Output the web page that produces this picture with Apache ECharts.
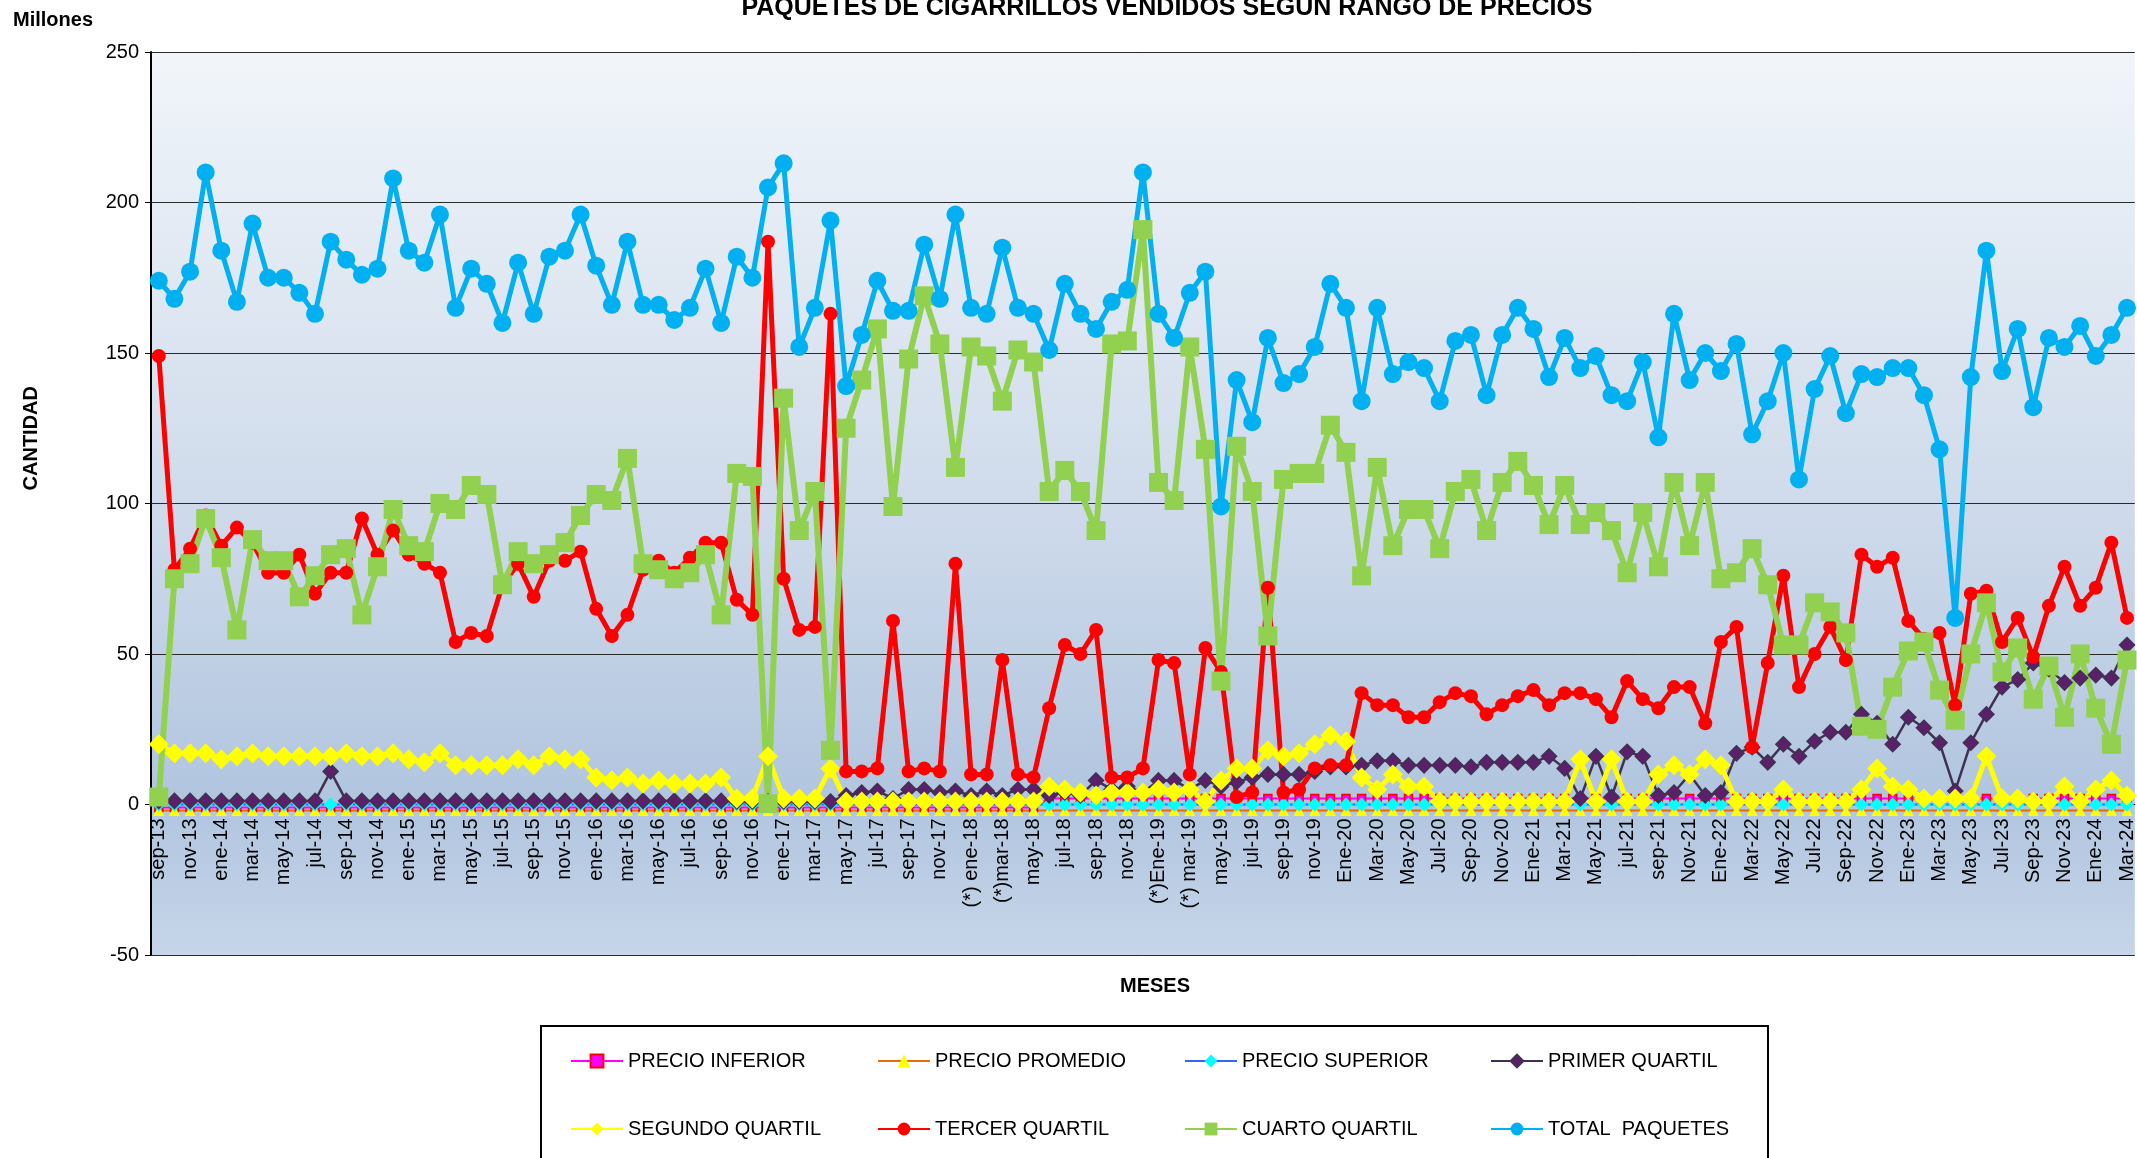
<!DOCTYPE html>
<html>
<head>
<meta charset="utf-8">
<title>Paquetes de cigarrillos vendidos</title>
<script src="https://cdn.jsdelivr.net/npm/echarts@6/dist/echarts.min.js"></script>
<style>
  html, body { margin: 0; padding: 0; background: #fff; }
  #chart { width: 2137px; height: 1158px; }
</style>
</head>
<body>
<div id="chart"></div>
<script>
// meses (cada categoria es un mes, se rotula uno de cada dos)
var meses = [
  'sep-13','oct-13','nov-13','dic-13',
  'ene-14','feb-14','mar-14','abr-14','may-14','jun-14','jul-14','ago-14','sep-14','oct-14','nov-14','dic-14',
  'ene-15','feb-15','mar-15','abr-15','may-15','jun-15','jul-15','ago-15','sep-15','oct-15','nov-15','dic-15',
  'ene-16','feb-16','mar-16','abr-16','may-16','jun-16','jul-16','ago-16','sep-16','oct-16','nov-16','dic-16',
  'ene-17','feb-17','mar-17','abr-17','may-17','jun-17','jul-17','ago-17','sep-17','oct-17','nov-17','dic-17',
  '(*) ene-18','feb-18','(*)mar-18','abr-18','may-18','jun-18','jul-18','ago-18','sep-18','oct-18','nov-18','dic-18',
  '(*)Ene-19','feb-19','(*) mar-19','abr-19','may-19','jun-19','jul-19','ago-19','sep-19','oct-19','nov-19','dic-19',
  'Ene-20','Feb-20','Mar-20','Abr-20','May-20','Jun-20','Jul-20','Ago-20','Sep-20','Oct-20','Nov-20','Dic-20',
  'Ene-21','Feb-21','Mar-21','Abr-21','May-21','Jun-21','jul-21','ago-21','sep-21','oct-21','Nov-21','Dic-21',
  'Ene-22','Feb-22','Mar-22','Abr-22','May-22','Jun-22','Jul-22','Ago-22','Sep-22','Oct-22','Nov-22','Dic-22',
  'Ene-23','Feb-23','Mar-23','Abr-23','May-23','Jun-23','Jul-23','Ago-23','Sep-23','Oct-23','Nov-23','Dic-23',
  'Ene-24','Feb-24','Mar-24'
];

var yTicks = [-50, 0, 50, 100, 150, 200, 250];

// millones de paquetes
var precioInferior = [
  -1,-1,-1,-1,-1,-1,-1,-1,-1,-1,-1,-1,-1,-1,-1,-1,-1,-1,-1,-1,-1,
  -1,-1,-1,-1,-1,-1,-1,-1,-1,-1,-1,-1,-1,-1,-1,-1,-1,-1,-1,-1,-1,
  -1,-1,-1,-1,-1,-1,-1,-1,-1,-1,-1,-1,-1,-1,-1,2,2,2,2,2,2,2,
  2,2,2,2,2,2,2,2,2,2,2,2,2,2,2,2,2,2,2,2,2,
  2,2,2,2,2,2,2,2,2,2,2,2,2,2,2,2,2,2,2,2,2,
  2,2,2,2,2,2,2,2,2,2,2,2,2,2,2,2,2,2,2,2,2
];
var precioPromedio = [
  -2,-2,-2,-2,-2,-2,-2,-2,-2,-2,-2,-2,-2,-2,-2,-2,-2,-2,-2,-2,-2,
  -2,-2,-2,-2,-2,-2,-2,-2,-2,-2,-2,-2,-2,-2,-2,-2,-2,-2,-2,-2,-2,
  -2,-2,-2,-2,-2,-2,-2,-2,-2,-2,-2,-2,-2,-2,-2,-2,-2,-2,-2,-2,-2,-2,
  -2,-2,-2,-2,-2,-2,-2,-2,-2,-2,-2,-2,-2,-2,-2,-2,-2,-2,-2,-2,-2,
  -2,-2,-2,-2,-2,-2,-2,-2,-2,-2,-2,-2,-2,-2,-2,-2,-2,-2,-2,-2,-2,
  -2,-2,-2,-2,-2,-2,-2,-2,-2,-2,-2,-2,-2,-2,-2,-2,-2,-2,-2,-2,-2
];
var precioSuperior = [
  0,0,0,0,0,0,0,0,0,0,0,0,0,0,0,0,0,0,0,0,0,
  0,0,0,0,0,0,0,0,0,0,0,0,0,0,0,0,0,0,0,0,0,
  0,0,0,0,0,0,0,0,0,0,0,0,0,0,0,0,0,0,0,0,0,0,
  0,0,0,0,0,0,0,0,0,0,0,0,0,0,0,0,0,0,0,0,0,
  0,0,0,0,0,0,0,0,0,0,0,0,0,0,0,0,0,0,0,0,0,
  0,0,0,0,0,0,0,0,0,0,0,0,0,0,0,0,0,0,0,0,0
];
var primerQuartil = [
  1.2,1.2,1.2,1.2,1.2,1.2,1.2,1.2,1.2,1.2,1.2,11,1.2,1.2,1.2,1.2,1.2,1.2,1.2,1.2,1.2,
  1.2,1.2,1.2,1.2,1.2,1.2,1.2,1.2,1.2,1.2,1.2,1.2,1.2,1.2,1.2,1.2,1,1,1,1,1,
  1,1,3,4,4.5,2,5,5,4,4.5,3,4.5,3,5,5,3,4,3,8,5,6,4,
  8,8,5,8,6,7.5,9,10,10,10,11,12.5,12.5,13,14.5,14.5,13,13,13,13,12.5,
  14,14,14,14,16,12,2,16,2.5,17.5,16,3,4,10,3,4,17,19,14,20,16,
  21,24,24,30,27,20,29,25.5,20.5,4.5,20.5,30,39,41.5,47,45,40.5,42,43,42,53
];
var segundoQuartil = [
  20,17,17,17,15,16,17,16,16,16,16,16,17,16,16,17,15,14,17,13,13,
  13,13,15,13,16,15,15,9,8,9,7,8,7,7,7,9,2,2,16,2,2,
  2,12,1,1,1,1,1,1,1,1,1,1,1,1,1,6,5,4,3,4,4,4,
  5,4,5,1,8,12,12,18,16,17,20,23,21,9,5,10,6,6,1,1,1,
  1,1,1,1,1,1,15,1,15,1,1,10,13,10,15,13,1,1,1,5,1,
  1,1,1,5,12,6,5,2,2,2,2,16,2,2,1,1,6,1,5,8,3
];
var tercerQuartil = [
  149,78,85,96,86,92,87,77,77,83,70,77,77,95,83,91,83,80,77,54,57,
  56,73,80,69,81,81,84,65,56,63,78,81,77,82,87,87,68,63,187,75,58,
  59,163,11,11,12,61,11,12,11,80,10,10,48,10,9,32,53,50,58,9,9,12,
  48,47,10,52,44,2.5,4,72,4,5,12,13,13,37,33,33,29,29,34,37,36,
  30,33,36,38,33,37,37,35,29,41,35,32,39,39,27,54,59,19,47,76,39,
  50,59,48,83,79,82,61,55,57,33,70,71,54,62,49,66,79,66,72,87,62
];
var cuartoQuartil = [
  2.5,75,80,95,82,58,88,81,81,69,76,83,85,63,79,98,86,84,100,98,106,
  103,73,84,80,83,87,96,103,101,115,80,78,75,77,83,63,110,109,0.3,135,91,
  104,18,125,141,158,99,148,169,153,112,152,149,134,151,147,104,111,104,91,153,154,191,
  107,101,152,118,41,119,104,56,108,110,110,126,117,76,112,86,98,98,85,104,108,
  91,107,114,106,93,106,93,97,91,77,97,79,107,86,107,75,77,85,73,53,53,
  67,64,57,26,25,39,51,54,38,28,50,67,44,52,35,46,29,50,32,20,48
];
var totalPaquetes = [
  174,168,177,210,184,167,193,175,175,170,163,187,181,176,178,208,184,180,196,165,178,
  173,160,180,163,182,184,196,179,166,187,166,166,161,165,178,160,182,175,205,213,152,
  165,194,139,156,174,164,164,186,168,196,165,163,185,165,163,151,173,163,158,167,171,210,
  163,155,170,177,99,141,127,155,140,143,152,173,165,134,165,143,147,145,134,154,156,
  136,156,165,158,142,155,145,149,136,134,147,122,163,141,150,144,153,123,134,150,108,
  138,149,130,143,142,145,145,136,118,62,142,184,144,158,132,155,152,159,149,156,165
];

var fuente = '"Liberation Sans", Arial, sans-serif';

function serie(nombre, datos, color, ancho, simbolo, tam, relleno, borde) {
  return {
    name: nombre,
    type: 'line',
    data: datos,
    symbol: simbolo,
    symbolSize: tam,
    showAllSymbol: true,
    lineStyle: { color: color, width: ancho },
    itemStyle: { color: relleno, borderColor: borde || relleno, borderWidth: borde ? 1.5 : 0 },
    emphasis: { disabled: true },
    animation: false
  };
}

var series = [
  serie('PRECIO INFERIOR', precioInferior, '#ff00ff', 2, 'rect', 8, '#ff00ff', '#ff0000'),
  serie('PRECIO PROMEDIO', precioPromedio, '#e46c0a', 2, 'triangle', 11, '#ffff00'),
  serie('PRECIO SUPERIOR', precioSuperior, '#3366ff', 2, 'diamond', 14, '#00ffff'),
  serie('PRIMER QUARTIL', primerQuartil, '#403152', 2.5, 'diamond', 15, '#5b2069', '#403152'),
  serie('SEGUNDO QUARTIL', segundoQuartil, '#ffff00', 5, 'diamond', 20, '#ffff00'),
  serie('TERCER QUARTIL', tercerQuartil, '#ff0000', 5, 'circle', 14, '#ff0000'),
  serie('CUARTO QUARTIL', cuartoQuartil, '#92d050', 6, 'rect', 19, '#92d050'),
  serie('TOTAL  PAQUETES', totalPaquetes, '#00b0f0', 5, 'circle', 18, '#00b0f0')
];

// leyenda en dos filas de cuatro
var colsLeyenda = [565, 872, 1179, 1485];
var filasLeyenda = [1046, 1114];
var legends = series.map(function (s, k) {
  return {
    data: [s.name],
    left: colsLeyenda[k % 4],
    top: filasLeyenda[Math.floor(k / 4)],
    itemWidth: 52,
    itemHeight: 16,
    itemGap: 6,
    selectedMode: false,
    textStyle: { fontFamily: fuente, fontSize: 20, color: '#000' }
  };
});

var chart = echarts.init(document.getElementById('chart'));
chart.setOption({
  backgroundColor: '#fff',
  animation: false,
  textStyle: { fontFamily: fuente },
  grid: {
    left: 151, right: 0, top: 52, bottom: 203,
    show: true,
    borderWidth: 0,
    backgroundColor: new echarts.graphic.LinearGradient(0, 0, 0, 1, [
      { offset: 0, color: '#f1f5fa' },
      { offset: 0.5, color: '#cfdbeb' },
      { offset: 0.83, color: '#b1c5df' },
      { offset: 1, color: '#c6d5e9' }
    ])
  },
  legend: legends,
  xAxis: {
    type: 'category',
    data: meses,
    boundaryGap: true,
    position: 'bottom',
    // el eje de meses va sobre el cero
    offset: -150.5,
    axisLine: { onZero: false, lineStyle: { color: '#000', width: 1 } },
    axisTick: { show: false },
    axisLabel: { interval: 1, rotate: 90, fontSize: 20, color: '#000', margin: 14 },
    splitLine: { show: false }
  },
  yAxis: {
    type: 'value',
    min: yTicks[0],
    max: yTicks[yTicks.length - 1],
    interval: 50,
    axisLine: { show: true, lineStyle: { color: '#000', width: 2 } },
    axisTick: { show: true, length: 6, lineStyle: { color: '#000' } },
    axisLabel: { fontSize: 20, color: '#000', margin: 12 },
    splitLine: { show: true, lineStyle: { color: '#2a2a2a', width: 1 } }
  },
  series: series,
  graphic: [
    {
      type: 'rect', z: -1, silent: true,
      shape: { x: 541, y: 1026, width: 1227, height: 160 },
      style: { fill: '#fff', stroke: '#000', lineWidth: 2 }
    },
    {
      type: 'text', silent: true,
      x: 1167, y: -4,
      style: {
        text: 'PAQUETES DE CIGARRILLOS VENDIDOS SEGUN RANGO DE PRECIOS',
        textAlign: 'center',
        font: 'bold 25px ' + fuente, fill: '#000'
      }
    },
    {
      type: 'text', silent: true, left: 13, top: 10,
      style: { text: 'Millones', font: 'bold 20px ' + fuente, fill: '#000' }
    },
    {
      type: 'text', silent: true, left: 21, top: 386,
      style: { text: 'CANTIDAD', font: 'bold 20px ' + fuente, fill: '#000' },
      rotation: Math.PI / 2, originX: 0, originY: 0
    },
    {
      type: 'text', silent: true, left: 1120, top: 976,
      style: { text: 'MESES', font: 'bold 20px ' + fuente, fill: '#000' }
    }
  ]
});
</script>
</body>
</html>
